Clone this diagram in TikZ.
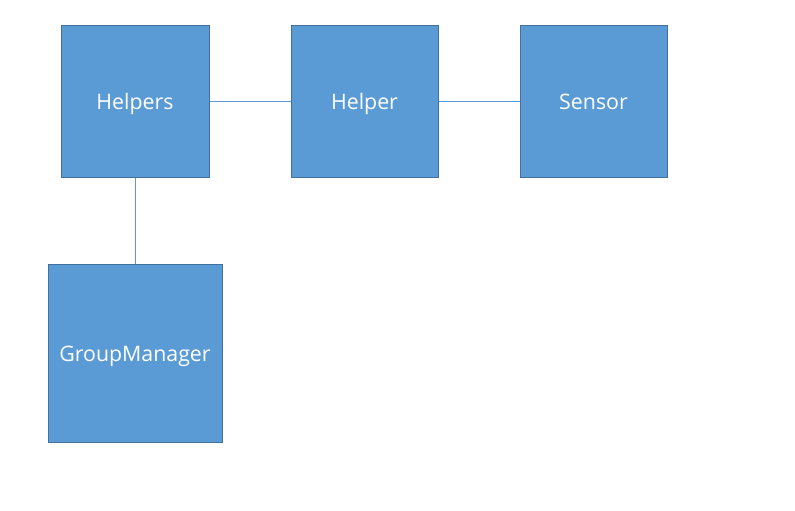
\documentclass[tikz,border=0pt]{standalone}
\usepackage{fontspec}
\setmainfont{Open Sans}
\definecolor{boxfill}{HTML}{5B9BD5}
\definecolor{boxline}{HTML}{41719C}
\definecolor{linkline}{HTML}{5B9BD5}
\begin{document}
\begin{tikzpicture}[x=0.75pt,y=-0.75pt,
  box/.style={draw=boxline,fill=boxfill,line width=0.75pt,text=white,font=\fontsize{16}{19}\selectfont,inner sep=0pt,text height=14pt,text depth=1.5pt},
  link/.style={draw=linkline,line width=0.75pt}]
\useasboundingbox (0,0) rectangle (795,510);
\node[box,minimum width=148*0.75pt,minimum height=151*0.75pt] (helpers) at (135,101.5) {Helpers};
\node[box,minimum width=147*0.75pt,minimum height=151*0.75pt] (helper) at (364.5,101.5) {Helper};
\node[box,minimum width=147*0.75pt,minimum height=151*0.75pt] (sensor) at (593.5,101.5) {Sensor};
\node[box,minimum width=174*0.75pt,minimum height=178*0.75pt] (gm) at (135,353) {GroupManager};
\draw[link] (helpers) -- (helper);
\draw[link] (helper) -- (sensor);
\draw[link] (helpers) -- (gm);
\end{tikzpicture}
\end{document}
